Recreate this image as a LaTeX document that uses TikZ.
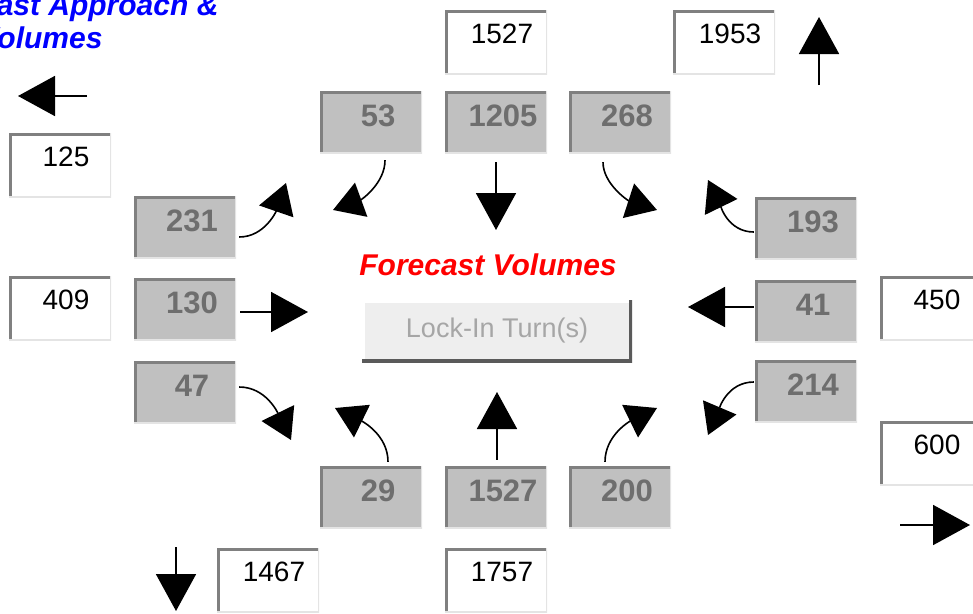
\documentclass[tikz,border=0pt]{standalone}
\usepackage{fontspec}
\setmainfont{Liberation Sans}
\usetikzlibrary{arrows.meta}

\definecolor{boxgray}{HTML}{C0C0C0}
\definecolor{numgray}{HTML}{6E6E6E}
\definecolor{edgedark}{HTML}{808080}
\definecolor{edgelight}{HTML}{E4E4E4}
\definecolor{btnface}{HTML}{EEEEEE}
\definecolor{btnedge}{HTML}{5A5A5A}
\definecolor{btntext}{HTML}{A6A6A6}

\tikzset{
  bevel/.style n args={3}{path picture={
    \draw[#1,line width=5pt] (path picture bounding box.south west) -- (path picture bounding box.north west) -- (path picture bounding box.north east);
    \draw[#2,line width=#3] (path picture bounding box.north east) -- (path picture bounding box.south east) -- (path picture bounding box.south west);}},
  gbox/.style={fill=boxgray,minimum width=102pt,minimum height=62pt,inner sep=0pt,bevel={edgedark}{edgelight}{3pt},
    label={[text=numgray,font=\fontsize{31}{31}\selectfont\bfseries,xshift=7pt,yshift=6pt]center:#1}},
  wbox/.style={fill=white,minimum width=102pt,minimum height=64pt,inner sep=0pt,bevel={edgedark}{edgelight}{3pt},
    label={[font=\fontsize{28}{28}\selectfont,xshift=6pt,yshift=8pt]center:#1}},
  flow/.style={line width=1.8pt,-{Triangle[length=37pt,width=40pt]}},
  turn/.style={line width=1.6pt,-{Triangle[length=30pt,width=36pt]}},
  heading/.style={font=\fontsize{30}{30}\selectfont\bfseries\itshape},
}

\begin{document}
\begin{tikzpicture}[x=1pt,y=1pt]
\useasboundingbox (0,0) rectangle (973,-613);
\clip (0,0) rectangle (973,-613);

% Title, cut off at the left edge
\node[heading,anchor=base east,text=blue] (title1) at (222,-15) {Forecast Approach \&};
\node[heading,anchor=base east,text=blue] (title2) at (106,-48) {Volumes};

% Turning volumes
\foreach \nm/\x/\y in {53/371/122,1205/496/122,268/620/122,231/185/227,130/185/309,47/185/392,
                       193/806/228,41/806/311,214/806/391,29/371/497,1527/496/497,200/620/497} {
  \node[gbox=\nm] (g\nm) at (\x,-\y) {};
}

% Approach and departure volumes
\foreach \nm/\x/\y in {1527/496/42,1953/724/42,125/60/165,409/60/308,
                       450/931/308,600/931/453,1467/268/580,1757/496/580} {
  \node[wbox=\nm] (w\nm) at (\x,-\y) {};
}

% Centre
\node[heading,text=red] (fcast) at (488,-265) {Forecast Volumes};
\node[fill=btnface,minimum width=270pt,minimum height=62pt,bevel={white}{btnedge}{6pt},
      text=btntext,font=\fontsize{27}{27}\selectfont] (lockin) at (497,-331) {Lock-In Turn(s)};

% Arrow tips
\coordinate (t53) at (333,-210);
\coordinate (t1205) at (496,-230);
\coordinate (t268) at (657,-210);
\coordinate (t231) at (286,-183);
\coordinate (t130) at (308,-312);
\coordinate (t47) at (291,-440);
\coordinate (t193) at (708,-180);
\coordinate (t41) at (688,-307);
\coordinate (t214) at (708,-435);
\coordinate (t29) at (335,-408);
\coordinate (t1527) at (497,-392);
\coordinate (t200) at (657,-408);

% Through movements
\draw[flow,shorten <=9pt] (g1205.south) -- (t1205);
\draw[flow,shorten <=6pt] ([xshift=1pt]g1527.north) -- (t1527);
\draw[flow,shorten <=4pt] ([yshift=-3pt]g130.east) -- (t130);
\draw[flow,shorten <=1pt] ([yshift=4pt]g41.west) -- (t41);

% Turning movements
\draw[turn,shorten <=7pt] ([xshift=14pt]g53.south) to[out=-90,in=20] (t53);
\draw[turn,shorten <=9pt] ([xshift=-17pt]g268.south) to[out=-90,in=162] (t268);
\draw[turn,shorten <=3pt] ([yshift=-10pt]g231.east) to[out=0,in=251] (t231);
\draw[turn,shorten <=3pt] ([yshift=5pt]g47.east) to[out=0,in=116] (t47);
\draw[turn,shorten <=4pt] ([xshift=17pt]g29.north) to[out=90,in=-26] (t29);
\draw[turn,shorten <=4pt] ([xshift=-15pt]g200.north) to[out=90,in=206] (t200);
\draw[turn,shorten <=1pt] ([yshift=-4pt]g193.west) to[out=180,in=-64] (t193);
\draw[turn,shorten <=1pt] ([yshift=9pt]g214.west) to[out=180,in=67] (t214);

% Departures
\coordinate (wout0) at (87,-96);   \coordinate (wout1) at (18,-96);
\coordinate (nout0) at (819,-85);  \coordinate (nout1) at (819,-17);
\coordinate (sout0) at (176,-547); \coordinate (sout1) at (176,-611);
\coordinate (eout0) at (900,-525); \coordinate (eout1) at (970,-525);
\draw[flow] (wout0) -- (wout1);
\draw[flow] (nout0) -- (nout1);
\draw[flow] (sout0) -- (sout1);
\draw[flow] (eout0) -- (eout1);
\end{tikzpicture}
\end{document}
